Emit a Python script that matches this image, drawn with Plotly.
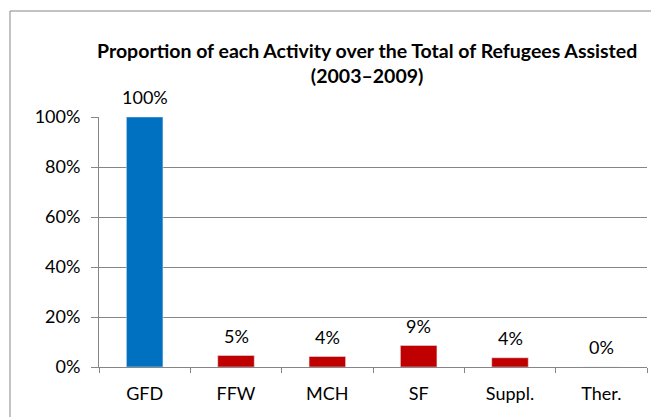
import plotly.graph_objects as go

categories = ["GFD", "FFW", "MCH", "SF", "Suppl.", "Ther."]
values = [1.00, 0.046, 0.042, 0.086, 0.037, 0.0]
colors = ["#0070C0", "#C00000", "#C00000", "#C00000", "#C00000", "#C00000"]

FONT = "Lato"
GRID = "#868686"

fig = go.Figure(go.Bar(
    x=categories, y=values, marker_color=colors, width=0.4,
    cliponaxis=False, hoverinfo="skip",
))

labels = [dict(
    x=c, y=v, text=f"{v:.0%}", xref="x", yref="y", showarrow=False,
    yanchor="middle", yshift=20, font=dict(family=FONT, size=18, color="#000000"),
) for c, v in zip(categories, values)]

fig.update_layout(
    width=651, height=417,
    margin=dict(l=99, r=4, t=117, b=50),
    paper_bgcolor="white", plot_bgcolor="white",
    showlegend=False,
    font=dict(family=FONT, size=18, color="#000000"),
    bargap=0.6,
    xaxis=dict(
        showline=True, linecolor=GRID, linewidth=1,
        ticks="outside", tickson="boundaries", ticklen=5, tickcolor=GRID,
        tickfont=dict(family=FONT, size=18), showgrid=False,
        ticklabelstandoff=10, fixedrange=True,
    ),
    yaxis=dict(
        range=[0, 1], tickvals=[0, 0.2, 0.4, 0.6, 0.8, 1.0], tickformat=".0%",
        showline=True, linecolor=GRID, linewidth=1,
        ticks="outside", ticklen=7, tickcolor=GRID,
        showgrid=True, gridcolor=GRID, gridwidth=1,
        tickfont=dict(family=FONT, size=18), zeroline=False,
        ticklabelstandoff=7, fixedrange=True,
    ),
    annotations=labels + [dict(
        text="<b>Proportion of each Activity over the Total of Refugees Assisted<br>(2003–2009)</b>",
        xref="paper", yref="paper", x=0.489, y=1.216, xanchor="center", yanchor="middle",
        showarrow=False, font=dict(family=FONT, size=19.5, color="#000000"),
    )],
    shapes=[dict(
        type="rect", xref="paper", yref="paper",
        x0=-0.1624, x1=1.2, y0=-0.5, y1=1.424,
        line=dict(color=GRID, width=1), fillcolor="rgba(0,0,0,0)", layer="below",
    )],
)

fig.write_html("out.html", config={"displayModeBar": False},
               post_script="document.body.style.margin='0';")
